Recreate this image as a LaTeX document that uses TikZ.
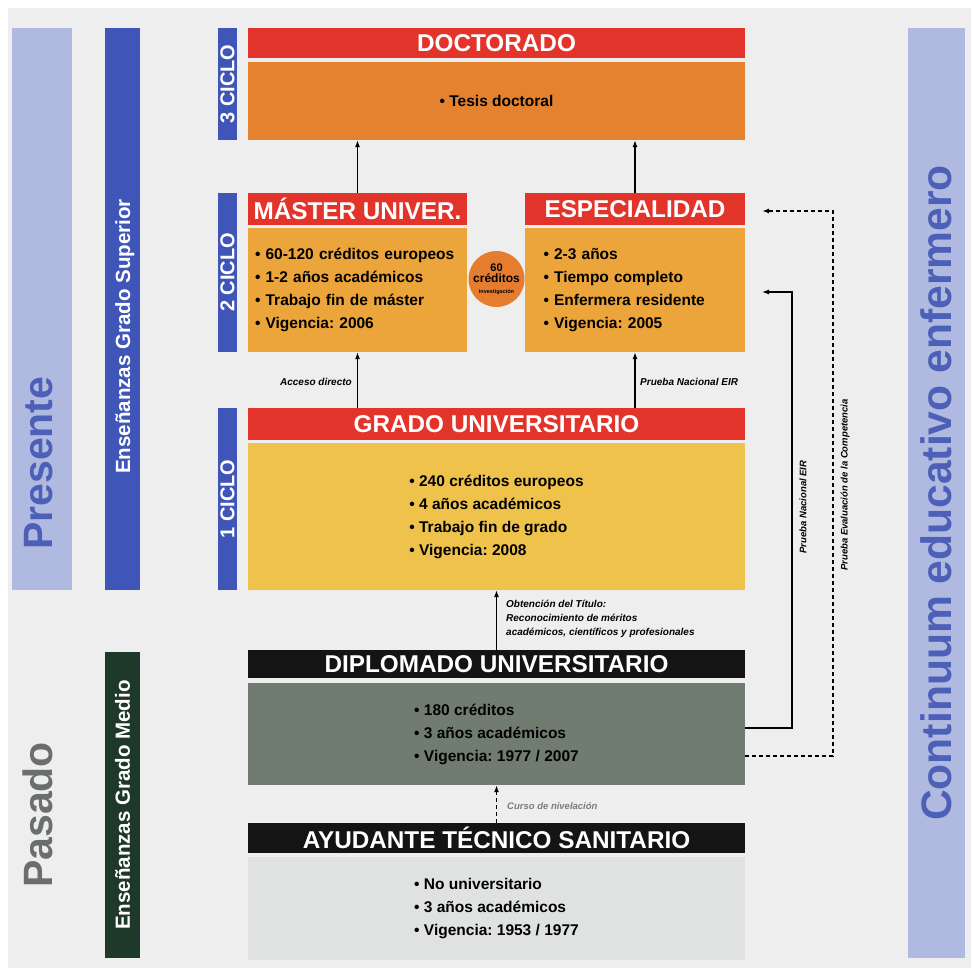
\documentclass[tikz,border=0pt]{standalone}
\usepackage{fontspec}
\setmainfont{Liberation Sans}
\usepackage{xcolor}
\usetikzlibrary{arrows.meta,calc,positioning}
\frenchspacing
\definecolor{PaperGray}{HTML}{EDEEED}
\definecolor{HeadRed}{HTML}{E3342B}
\definecolor{HeadBlack}{HTML}{141414}
\definecolor{DocOrange}{HTML}{E5822F}
\definecolor{MasOrange}{HTML}{EBA53A}
\definecolor{GradoYellow}{HTML}{EEC24B}
\definecolor{CircOrange}{HTML}{E57C2E}
\definecolor{CicloBlue}{HTML}{3F56B8}
\definecolor{SoftLilac}{HTML}{B0B9DF}
\definecolor{LilacText}{HTML}{4D60B8}
\definecolor{MedioGreen}{HTML}{1E3829}
\definecolor{DipGray}{HTML}{707C70}
\definecolor{AtsGray}{HTML}{E0E2E2}
\definecolor{NoteGray}{HTML}{7A7E7A}
\definecolor{PastGray}{HTML}{6B6F6B}

\begin{document}
\begin{tikzpicture}[
      x=1pt,y=-1pt,
      font=\bfseries,
      >={Latex[length=7pt,width=5pt]},
      headbox/.style={fill=HeadRed,text=white,inner sep=0pt,minimum height=30pt,font=\fontsize{24.3}{26}\selectfont\bfseries},
      darkhead/.style={headbox,fill=HeadBlack},
      bodybox/.style={inner sep=0pt,align=left,font=\fontsize{15.5}{23}\selectfont\bfseries},
      ciclobar/.style={fill=CicloBlue,text=white,rotate=90,inner sep=0pt,minimum height=19pt,font=\fontsize{20}{20}\selectfont\bfseries},
      sidebar/.style={rotate=90,inner sep=0pt,text=white,font=\fontsize{20.5}{21}\selectfont\bfseries},
      bigword/.style={rotate=90,inner sep=0pt,font=\fontsize{41}{41}\selectfont\bfseries},
      note/.style={inner sep=0pt,font=\fontsize{10}{14}\selectfont\bfseries\itshape},
      arr/.style={->,line width=1.1pt},
      dasharr/.style={arr,line width=1.8pt,dash pattern=on 4pt off 3pt}
    ]
      \useasboundingbox (0,0) rectangle (971,976);
      \fill[PaperGray] (8,8) rectangle (971,968);

      % side bars
      \fill[SoftLilac] (12,28) rectangle (72,590);
      \node[bigword,anchor=base west,text=LilacText] (presente) at (52,550) {Presente};
      \node[bigword,anchor=base west,text=PastGray] (pasado) at (52,888) {Pasado};
      \node[sidebar,fill=CicloBlue,minimum width=562pt,minimum height=35pt] (superior) at (122.5,309) {};
      \node[sidebar,anchor=base west] (superiorlbl) at (130,474) {Enseñanzas Grado Superior};
      \node[sidebar,fill=MedioGreen,minimum width=306pt,minimum height=35pt] (medio) at (122.5,805) {Enseñanzas Grado Medio};
      \node[bigword,fill=SoftLilac,text=LilacText,minimum width=930pt,minimum height=57pt,font=\fontsize{42.6}{43}\selectfont\bfseries] (continuum) at (936.5,493) {Continuum educativo enfermero};

      % ciclos
      \node[ciclobar,minimum width=112pt] (ciclo3) at (227.5,84) {3 CICLO};
      \node[ciclobar,minimum width=159pt] (ciclo2) at (227.5,272.5) {2 CICLO};
      \node[ciclobar,minimum width=182pt] (ciclo1) at (227.5,499) {1 CICLO};

      % boxes
      \node[headbox,minimum width=497pt] (doctitle) at (496.5,43) {DOCTORADO};
      \node[bodybox,fill=DocOrange,minimum width=497pt,minimum height=78pt] (docbody) at (496.5,101) {• Tesis doctoral};
      \node[headbox,minimum width=219pt,minimum height=32pt] (mastitle) at (357.5,209) {MÁSTER UNIVER.};
      \node[bodybox,fill=MasOrange,minimum width=219pt,minimum height=124pt,text width=205pt] (masbody) at (357.5,290)
        {• 60-120 créditos europeos\\• 1-2 años académicos\\• Trabajo fin de máster\\• Vigencia: 2006};
      \node[headbox,minimum width=220pt,minimum height=32pt] (esptitle) at (635,209) {ESPECIALIDAD};
      \node[bodybox,fill=MasOrange,minimum width=220pt,minimum height=124pt,text width=183pt] (espbody) at (635,290)
        {• 2-3 años\\• Tiempo completo\\• Enfermera residente\\• Vigencia: 2005};
      \node[circle,fill=CircOrange,minimum size=56pt,inner sep=0pt,align=center,font=\fontsize{11}{11}\selectfont\bfseries] (credits) at (496.5,279)
        {60\\{\fontsize{12}{10}\selectfont créditos}\\{\fontsize{5.5}{6}\selectfont investigación}};
      \node[headbox,minimum width=497pt,minimum height=32pt] (gradotitle) at (496.5,424) {GRADO UNIVERSITARIO};
      \node[bodybox,fill=GradoYellow,minimum width=497pt,minimum height=147pt] (gradobody) at (496.5,516.5)
        {• 240 créditos europeos\\• 4 años académicos\\• Trabajo fin de grado\\• Vigencia: 2008};
      \node[darkhead,minimum width=497pt,minimum height=28pt] (diptitle) at (496.5,664) {DIPLOMADO UNIVERSITARIO};
      \node[bodybox,fill=DipGray,minimum width=497pt,minimum height=102pt] (dipbody) at (496.5,734)
        {• 180 créditos\\• 3 años académicos\\• Vigencia: 1977 / 2007};
      \node[darkhead,minimum width=497pt] (atstitle) at (496.5,838) {AYUDANTE TÉCNICO SANITARIO};
      \node[bodybox,fill=AtsGray,minimum width=497pt,minimum height=103pt] (atsbody) at (496.5,908.5)
        {• No universitario\\• 3 años académicos\\• Vigencia: 1953 / 1977};

      % arrows
      \draw[arr] (mastitle.north) -- (mastitle.north |- docbody.south);
      \draw[arr] (esptitle.north) -- (esptitle.north |- docbody.south);
      \draw[arr] (gradotitle.north -| masbody.south) -- (masbody.south);
      \draw[arr] (gradotitle.north -| espbody.south) -- (espbody.south);
      \node[note,anchor=east] (accesslbl) at (352,382) {Acceso directo};
      \node[note,anchor=west] (eirlbl) at (640,382) {Prueba Nacional EIR};
      \draw[arr] (diptitle.north) -- (gradobody.south);
      \node[note,anchor=north west,align=left] (titulolbl) at (506,600)
        {Obtención del Título:\\Reconocimiento de méritos\\académicos, científicos y profesionales};
      \draw[dasharr] (atstitle.north) -- (dipbody.south);
      \node[note,anchor=west,text=NoteGray,font=\fontsize{9.5}{12}\selectfont\bfseries\itshape] (cursolbl) at (507,806) {Curso de nivelación};

      % right side paths
      \coordinate (eirend) at (762,292);
      \coordinate (compend) at (762,211);
      \draw[arr] (dipbody.east |- 0,728) -| (792,292) -- (eirend);
      \draw[dasharr] (dipbody.east |- 0,756) -| (833,211) -- (compend);
      \node[note,rotate=90,font=\fontsize{9.5}{12}\selectfont\bfseries\itshape] (eirnote) at (803,507) {Prueba Nacional EIR};
      \node[note,rotate=90,font=\fontsize{9.5}{12}\selectfont\bfseries\itshape] (compnote) at (845,485) {Prueba Evaluación de la Competencia};
    \end{tikzpicture}
\end{document}
